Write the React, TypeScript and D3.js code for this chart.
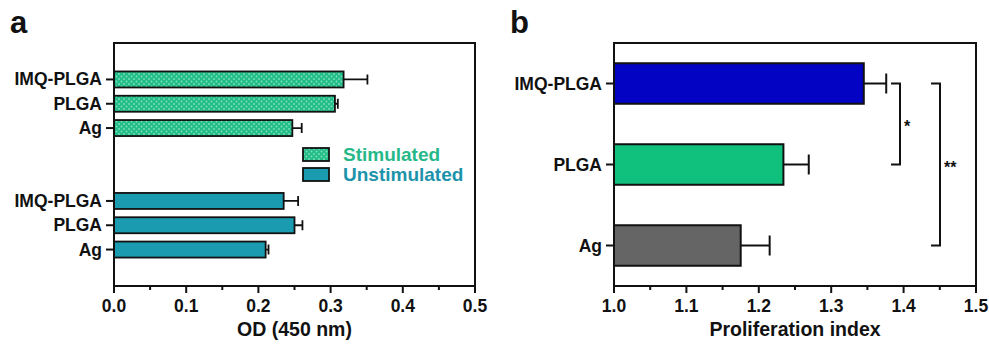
import React, { useRef, useEffect } from 'react'
import * as d3 from 'd3'

// panel a data
const groupsA = ["IMQ-PLGA", "PLGA", "Ag"]
const stimValues = [0.318, 0.306, 0.247]
const stimErrors = [0.033, 0.004, 0.013]
const unstimValues = [0.235, 0.250, 0.210]
const unstimErrors = [0.020, 0.011, 0.004]
const ticksA = [0, 0.1, 0.2, 0.3, 0.4, 0.5]
const legendLabels = ["Stimulated", "Unstimulated"]

// panel b data
const groupsB = ["IMQ-PLGA", "PLGA", "Ag"]
const prolifValues = [1.345, 1.234, 1.175]
const prolifErrors = [0.031, 0.035, 0.040]
const ticksB = [1.0, 1.1, 1.2, 1.3, 1.4, 1.5]
const sigPairs = [
  { from: "IMQ-PLGA", to: "PLGA", label: "*" },
  { from: "IMQ-PLGA", to: "Ag", label: "**" },
]

const FONT = "'Liberation Sans', Arial, sans-serif"
const colors = {
  stim: "#22bd88",
  stimDot: "#7fe0bb",
  unstim: "#1a9bb0",
  stimText: "#27b889",
  unstimText: "#1d93ab",
  b: ["#0303c4", "#10c17e", "#656565"],
}

const layout = { top: 43, bottom: 286, leftA: 114, rightA: 475, leftB: 614, rightB: 976 }

export default function App() {
  const ref = useRef<SVGSVGElement>(null)

  useEffect(() => {
    const svg = d3.select(ref.current)
    svg.selectAll("*").remove()

    const defs = svg.append("defs")
    const pat = defs.append("pattern")
      .attr("id", "dots")
      .attr("patternUnits", "userSpaceOnUse")
      .attr("width", 5)
      .attr("height", 5)
    pat.append("rect").attr("width", 5).attr("height", 5).attr("fill", colors.stim)
    pat.append("circle").attr("cx", 1.5).attr("cy", 1.5).attr("r", 0.9).attr("fill", colors.stimDot)
    pat.append("circle").attr("cx", 4).attr("cy", 4).attr("r", 0.9).attr("fill", colors.stimDot)

    // ---------- panel a ----------
    const gA = svg.append("g")
    const xA = d3.scaleLinear().domain([0, 0.5]).range([layout.leftA, layout.rightA])
    const yA = d3.scaleLinear().domain([-1.5, 8.5]).range([layout.top, layout.bottom])
    const barHA = 16

    const rowsA = [
      ...groupsA.map((g, i) => ({ name: g, v: stimValues[i], e: stimErrors[i], pos: i, stim: true })),
      ...groupsA.map((g, i) => ({ name: g, v: unstimValues[i], e: unstimErrors[i], pos: i + 5, stim: false })),
    ]

    // error bars
    gA.selectAll(".errA").data(rowsA).join("path")
      .attr("d", d => `M${xA(d.v)},${yA(d.pos)}H${xA(d.v + d.e)}M${xA(d.v + d.e)},${yA(d.pos) - 5}V${yA(d.pos) + 5}`)
      .attr("stroke", "#111").attr("stroke-width", 1.8).attr("fill", "none")

    gA.selectAll(".barA").data(rowsA).join("rect")
      .attr("x", xA(0))
      .attr("y", d => yA(d.pos) - barHA / 2)
      .attr("width", d => xA(d.v) - xA(0))
      .attr("height", barHA)
      .attr("fill", d => d.stim ? "url(#dots)" : colors.unstim)
      .attr("stroke", "#111").attr("stroke-width", 1.8)

    const drawFrame = (g, x, y0, y1, ticks, fmt, minor, title) => {
      const [l, r] = x.range()
      g.append("rect").attr("x", l).attr("y", y0).attr("width", r - l).attr("height", y1 - y0)
        .attr("fill", "none").attr("stroke", "#111").attr("stroke-width", 2)
      g.selectAll(".tickMaj").data(ticks).join("line")
        .attr("x1", d => x(d)).attr("x2", d => x(d)).attr("y1", y1).attr("y2", y1 + 7)
        .attr("stroke", "#111").attr("stroke-width", 2)
      g.selectAll(".tickMin").data(minor).join("line")
        .attr("x1", d => x(d)).attr("x2", d => x(d)).attr("y1", y1).attr("y2", y1 + 4)
        .attr("stroke", "#111").attr("stroke-width", 2)
      g.selectAll(".tickLab").data(ticks).join("text")
        .attr("x", d => x(d)).attr("y", y1 + 26)
        .attr("text-anchor", "middle").attr("font-family", FONT).attr("font-weight", "bold")
        .attr("font-size", 17.5).attr("fill", "#111")
        .text(d => fmt(d))
      g.append("text").attr("x", (l + r) / 2).attr("y", 336)
        .attr("text-anchor", "middle").attr("font-family", FONT).attr("font-weight", "bold")
        .attr("font-size", 19.5).attr("fill", "#111").text(title)
    }

    drawFrame(gA, xA, layout.top, layout.bottom, ticksA, d3.format(".1f"),
      ticksA.slice(0, -1).map(t => t + 0.05), "OD (450 nm)")

    gA.selectAll(".ytickA").data(rowsA).join("line")
      .attr("x1", layout.leftA - 8).attr("x2", layout.leftA)
      .attr("y1", d => yA(d.pos)).attr("y2", d => yA(d.pos))
      .attr("stroke", "#111").attr("stroke-width", 2)
    gA.selectAll(".ylabA").data(rowsA).join("text")
      .attr("x", layout.leftA - 12).attr("y", d => yA(d.pos) + 6)
      .attr("text-anchor", "end").attr("font-family", FONT).attr("font-weight", "bold")
      .attr("font-size", 17.5).attr("fill", "#111").text(d => d.name)

    // legend
    gA.selectAll(".legSw").data(legendLabels).join("rect")
      .attr("x", 303).attr("y", (d, i) => 148 + i * 20)
      .attr("width", 26).attr("height", 13)
      .attr("fill", (d, i) => i === 0 ? "url(#dots)" : colors.unstim)
      .attr("stroke", "#111").attr("stroke-width", 1.8)
    gA.selectAll(".legTx").data(legendLabels).join("text")
      .attr("x", 343).attr("y", (d, i) => 161 + i * 19.5)
      .attr("font-family", FONT).attr("font-weight", "bold").attr("font-size", 19)
      .attr("fill", (d, i) => i === 0 ? colors.stimText : colors.unstimText)
      .text(d => d)

    // ---------- panel b ----------
    const gB = svg.append("g")
    const xB = d3.scaleLinear().domain([1.0, 1.5]).range([layout.leftB, layout.rightB])
    const yB = d3.scaleBand().domain(groupsB).range([layout.top, layout.bottom]).paddingInner(0.5).paddingOuter(0.25)
    const cy = (g: string) => (yB(g) as number) + yB.bandwidth() / 2

    gB.selectAll(".errB").data(groupsB).join("path")
      .attr("d", (d, i) => {
        const xe = xB(prolifValues[i] + prolifErrors[i])
        return `M${xB(prolifValues[i])},${cy(d)}H${xe}M${xe},${cy(d) - 10}V${cy(d) + 10}`
      })
      .attr("stroke", "#111").attr("stroke-width", 2).attr("fill", "none")

    gB.selectAll(".barB").data(groupsB).join("rect")
      .attr("x", xB(1.0))
      .attr("y", d => yB(d) as number)
      .attr("width", (d, i) => xB(prolifValues[i]) - xB(1.0))
      .attr("height", yB.bandwidth())
      .attr("fill", (d, i) => colors.b[i])
      .attr("stroke", "#111").attr("stroke-width", 2)

    drawFrame(gB, xB, layout.top, layout.bottom, ticksB, d3.format(".1f"),
      ticksB.slice(0, -1).map(t => t + 0.05), "Proliferation index")

    gB.selectAll(".ytickB").data(groupsB).join("line")
      .attr("x1", layout.leftB - 8).attr("x2", layout.leftB)
      .attr("y1", d => cy(d)).attr("y2", d => cy(d))
      .attr("stroke", "#111").attr("stroke-width", 2)
    gB.selectAll(".ylabB").data(groupsB).join("text")
      .attr("x", layout.leftB - 12).attr("y", d => cy(d) + 6)
      .attr("text-anchor", "end").attr("font-family", FONT).attr("font-weight", "bold")
      .attr("font-size", 17.5).attr("fill", "#111").text(d => d)

    // significance brackets
    const bracketX = [900, 940]
    sigPairs.forEach((p, i) => {
      const xr = bracketX[i]
      const y0 = cy(p.from), y1 = cy(p.to)
      gB.append("path")
        .attr("d", `M${xr - 9},${y0}H${xr}V${y1}H${xr - 9}`)
        .attr("stroke", "#111").attr("stroke-width", 2).attr("fill", "none")
      gB.append("text").attr("x", xr + 4).attr("y", (y0 + y1) / 2 + 8)
        .attr("font-family", FONT).attr("font-weight", "bold").attr("font-size", 16)
        .attr("fill", "#111").text(p.label)
    })

    // panel letters
    svg.selectAll(".panelLab").data([["a", 10], ["b", 510]]).join("text")
      .attr("x", d => d[1] as number).attr("y", 33)
      .attr("font-family", FONT).attr("font-weight", "bold").attr("font-size", 31)
      .attr("fill", "#111").text(d => d[0] as string)
  }, [])

  return (
    <svg ref={ref} width={989} height={345}
      style={{ position: "absolute", left: 0, top: 0, background: "#fff" }} />
  )
}
